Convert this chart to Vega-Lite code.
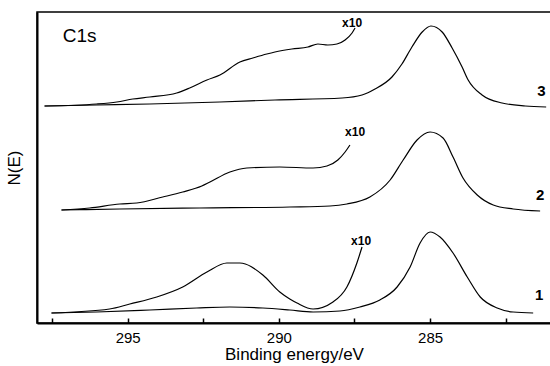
{
  "$schema": "https://vega.github.io/schema/vega-lite/v6.json",
  "width": 514,
  "height": 311,
  "autosize": {"type": "none"},
  "padding": {"left": 37, "top": 12, "right": 0, "bottom": 43},
  "background": "white",
  "config": {
    "view": {"stroke": "black", "strokeWidth": 1.5},
    "font": "Liberation Sans"
  },
  "datasets": {
    "curves": [
      {"s": "3m", "E": 297.75, "I": 217}, {"s": "3m", "E": 296.03, "I": 218}, {"s": "3m", "E": 294.27, "I": 219}, {"s": "3m", "E": 291.95, "I": 221}, {"s": "3m", "E": 290.13, "I": 223}, {"s": "3m", "E": 287.91, "I": 225}, {"s": "3m", "E": 287.25, "I": 228}, {"s": "3m", "E": 286.82, "I": 234}, {"s": "3m", "E": 286.26, "I": 246}, {"s": "3m", "E": 285.93, "I": 259}, {"s": "3m", "E": 285.6, "I": 276}, {"s": "3m", "E": 285.26, "I": 291}, {"s": "3m", "E": 284.97, "I": 297}, {"s": "3m", "E": 284.6, "I": 291}, {"s": "3m", "E": 284.27, "I": 275}, {"s": "3m", "E": 283.94, "I": 256}, {"s": "3m", "E": 283.74, "I": 243}, {"s": "3m", "E": 283.28, "I": 228}, {"s": "3m", "E": 282.62, "I": 220}, {"s": "3m", "E": 281.85, "I": 217}, {"s": "3m", "E": 281.16, "I": 216},
      {"s": "3x", "E": 297.75, "I": 217}, {"s": "3x", "E": 296.03, "I": 219}, {"s": "3x", "E": 295.36, "I": 221}, {"s": "3x", "E": 294.83, "I": 224}, {"s": "3x", "E": 294.27, "I": 226}, {"s": "3x", "E": 293.38, "I": 230}, {"s": "3x", "E": 292.95, "I": 235}, {"s": "3x", "E": 292.38, "I": 243}, {"s": "3x", "E": 291.95, "I": 248}, {"s": "3x", "E": 291.29, "I": 261}, {"s": "3x", "E": 290.86, "I": 265}, {"s": "3x", "E": 290.4, "I": 269}, {"s": "3x", "E": 290.13, "I": 271}, {"s": "3x", "E": 289.57, "I": 274}, {"s": "3x", "E": 289.04, "I": 276}, {"s": "3x", "E": 288.71, "I": 279}, {"s": "3x", "E": 288.38, "I": 278}, {"s": "3x", "E": 288.08, "I": 279}, {"s": "3x", "E": 287.81, "I": 283}, {"s": "3x", "E": 287.58, "I": 290}, {"s": "3x", "E": 287.48, "I": 295},
      {"s": "2m", "E": 297.19, "I": 113}, {"s": "2m", "E": 295.26, "I": 114}, {"s": "2m", "E": 292.62, "I": 115}, {"s": "2m", "E": 289.64, "I": 116}, {"s": "2m", "E": 288.31, "I": 117}, {"s": "2m", "E": 287.75, "I": 119}, {"s": "2m", "E": 286.99, "I": 126}, {"s": "2m", "E": 286.32, "I": 143}, {"s": "2m", "E": 285.89, "I": 163}, {"s": "2m", "E": 285.43, "I": 183}, {"s": "2m", "E": 285.0, "I": 191}, {"s": "2m", "E": 284.57, "I": 185}, {"s": "2m", "E": 284.24, "I": 166}, {"s": "2m", "E": 283.91, "I": 145}, {"s": "2m", "E": 283.44, "I": 128}, {"s": "2m", "E": 282.91, "I": 118}, {"s": "2m", "E": 282.25, "I": 114}, {"s": "2m", "E": 281.36, "I": 112},
      {"s": "2x", "E": 297.19, "I": 113}, {"s": "2x", "E": 296.26, "I": 115}, {"s": "2x", "E": 295.26, "I": 119}, {"s": "2x", "E": 294.7, "I": 120}, {"s": "2x", "E": 293.84, "I": 126}, {"s": "2x", "E": 293.18, "I": 131}, {"s": "2x", "E": 292.55, "I": 137}, {"s": "2x", "E": 292.28, "I": 141}, {"s": "2x", "E": 291.62, "I": 151}, {"s": "2x", "E": 291.06, "I": 155}, {"s": "2x", "E": 289.97, "I": 156}, {"s": "2x", "E": 288.87, "I": 155}, {"s": "2x", "E": 288.41, "I": 157}, {"s": "2x", "E": 288.05, "I": 163}, {"s": "2x", "E": 287.81, "I": 171}, {"s": "2x", "E": 287.65, "I": 178},
      {"s": "1m", "E": 297.52, "I": 10}, {"s": "1m", "E": 296.03, "I": 11}, {"s": "1m", "E": 294.27, "I": 13}, {"s": "1m", "E": 292.72, "I": 15}, {"s": "1m", "E": 291.62, "I": 16}, {"s": "1m", "E": 290.53, "I": 15}, {"s": "1m", "E": 289.64, "I": 13}, {"s": "1m", "E": 288.87, "I": 11}, {"s": "1m", "E": 287.98, "I": 12}, {"s": "1m", "E": 287.32, "I": 16}, {"s": "1m", "E": 286.66, "I": 23}, {"s": "1m", "E": 286.09, "I": 36}, {"s": "1m", "E": 285.66, "I": 56}, {"s": "1m", "E": 285.33, "I": 80}, {"s": "1m", "E": 285.0, "I": 91}, {"s": "1m", "E": 284.67, "I": 86}, {"s": "1m", "E": 284.24, "I": 70}, {"s": "1m", "E": 283.77, "I": 46}, {"s": "1m", "E": 283.34, "I": 26}, {"s": "1m", "E": 282.78, "I": 15}, {"s": "1m", "E": 282.25, "I": 11}, {"s": "1m", "E": 281.59, "I": 10},
      {"s": "1x", "E": 297.52, "I": 10}, {"s": "1x", "E": 295.6, "I": 14}, {"s": "1x", "E": 294.93, "I": 19}, {"s": "1x", "E": 294.04, "I": 26}, {"s": "1x", "E": 293.18, "I": 36}, {"s": "1x", "E": 292.38, "I": 51}, {"s": "1x", "E": 291.72, "I": 60}, {"s": "1x", "E": 291.29, "I": 60}, {"s": "1x", "E": 290.53, "I": 48}, {"s": "1x", "E": 289.97, "I": 31}, {"s": "1x", "E": 289.64, "I": 24}, {"s": "1x", "E": 289.4, "I": 20}, {"s": "1x", "E": 288.87, "I": 14}, {"s": "1x", "E": 288.21, "I": 21}, {"s": "1x", "E": 287.75, "I": 36}, {"s": "1x", "E": 287.42, "I": 60}, {"s": "1x", "E": 287.25, "I": 76}
    ],
    "small": [
      {"E": 287.58, "I": 300, "t": "x10"},
      {"E": 287.48, "I": 191, "t": "x10"},
      {"E": 287.28, "I": 82, "t": "x10"}
    ],
    "nums": [
      {"E": 281.32, "I": 232, "t": "3"},
      {"E": 281.36, "I": 128, "t": "2"},
      {"E": 281.39, "I": 28, "t": "1"}
    ],
    "title": [
      {"E": 297.15, "I": 287, "t": "C1s"}
    ]
  },
  "encoding": {
    "x": {
      "field": "E", "type": "quantitative",
      "scale": {"domain": [281, 298], "reverse": true, "nice": false, "zero": false},
      "axis": {
        "title": "Binding energy/eV",
        "titleFont": "Liberation Sans", "titleFontSize": 17, "titleFontWeight": "normal", "titleColor": "black", "titlePadding": 1,
        "values": [297.5, 295, 292.5, 290, 287.5, 285, 282.5],
        "labelExpr": "datum.value % 5 === 0 ? datum.label : ''",
        "labelFontSize": 15, "labelColor": "black", "labelFont": "Liberation Sans",
        "tickSize": -5, "tickColor": "black", "tickWidth": 1.5,
        "domainColor": "black", "domainWidth": 2, "grid": false, "labelPadding": 12
      }
    },
    "y": {
      "field": "I", "type": "quantitative",
      "scale": {"domain": [0, 311], "nice": false, "zero": false},
      "axis": {
        "title": "N(E)", "titleFont": "Liberation Sans", "titleFontSize": 17, "titleFontWeight": "normal", "titleColor": "black",
        "labels": false, "ticks": false, "grid": false, "domainColor": "black", "domainWidth": 2, "titlePadding": 14
      }
    }
  },
  "layer": [
    {
      "data": {"name": "curves"},
      "mark": {"type": "line", "color": "black", "strokeWidth": 1.2, "interpolate": "monotone"},
      "encoding": {"detail": {"field": "s", "type": "nominal"}}
    },
    {
      "data": {"name": "small"},
      "mark": {"type": "text", "fontSize": 12, "fontWeight": "bold", "color": "black", "align": "center", "baseline": "middle"},
      "encoding": {"text": {"field": "t"}}
    },
    {
      "data": {"name": "nums"},
      "mark": {"type": "text", "fontSize": 15, "fontWeight": "bold", "color": "black", "align": "center", "baseline": "middle"},
      "encoding": {"text": {"field": "t"}}
    },
    {
      "data": {"name": "title"},
      "mark": {"type": "text", "fontSize": 19, "color": "black", "align": "left", "baseline": "middle"},
      "encoding": {"text": {"field": "t"}}
    }
  ]
}
